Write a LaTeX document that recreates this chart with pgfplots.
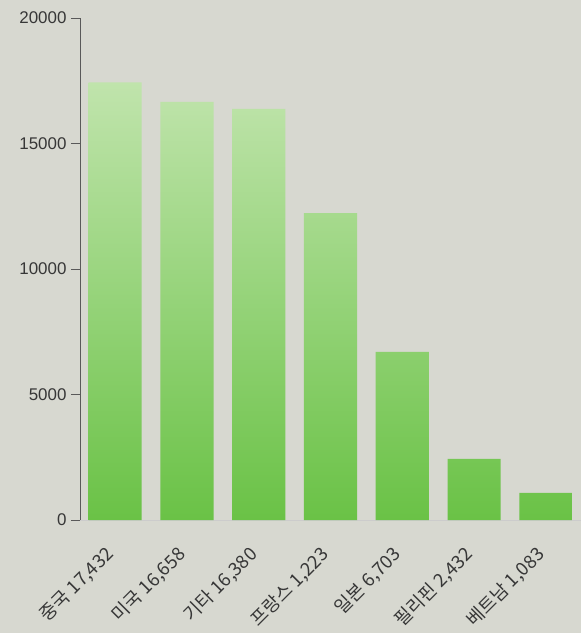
\documentclass[border=0pt]{standalone}
\usepackage{fontspec}
\setmainfont{Liberation Sans}
\newfontfamily\kr{Noto Sans CJK KR}
\usepackage{pgfplots}
\pgfplotsset{compat=1.18}
\definecolor{bg}{RGB}{215,216,208}
\definecolor{bartop}{RGB}{192,228,172}
\definecolor{barbot}{RGB}{106,194,70}
\definecolor{txt}{RGB}{55,55,55}
\begin{document}
\begin{tikzpicture}
\fill[bg] (-80bp,-113bp) rectangle (501bp,520bp);
\begin{axis}[
  anchor=south west, at={(0,0)},
  scale only axis, width=501bp, height=502bp,
  xmin=-0.49, xmax=6.49, ymin=0, ymax=20000,
  axis x line*=bottom, axis y line*=left,
  x axis line style={draw=gray!40, line width=1pt},
  y axis line style={draw=gray!70!black, line width=0.6pt},
  ytick={0,5000,10000,15000,20000},
  scaled y ticks=false,
  /pgf/number format/.cd, set thousands separator={}, assume math mode=true,
  /pgfplots/.cd,
  yticklabel style={font=\fontsize{17}{17}\selectfont, text=txt, xshift=-1bp},
  ytick style={draw=gray!70!black, line width=0.6pt},
  tick align=outside, major tick length=9bp,
  xtick={0,1,2,3,4,5,6},
  xticklabels={{중국\ 17,432}, {미국\ 16,658}, {기타\ 16,380}, {프랑스\ 1,223}, {일본\ 6,703}, {필리핀\ 2,432}, {베트남\ 1,083}},
  xticklabel style={yshift=-20bp, xshift=-2bp, rotate=45, anchor=east, font=\kr\fontsize{18.5}{18.5}\selectfont, text=txt},
  x tick style={draw=none},
  ybar, bar width=0.74,
]
\addplot[draw=none, top color=bartop, bottom color=barbot] coordinates {
  (0,17432) (1,16658) (2,16380) (3,12223) (4,6703) (5,2432) (6,1083)
};
\end{axis}
\pgfresetboundingbox
\path[use as bounding box] (-80bp,-113bp) rectangle (501bp,520bp);
\end{tikzpicture}
\end{document}
